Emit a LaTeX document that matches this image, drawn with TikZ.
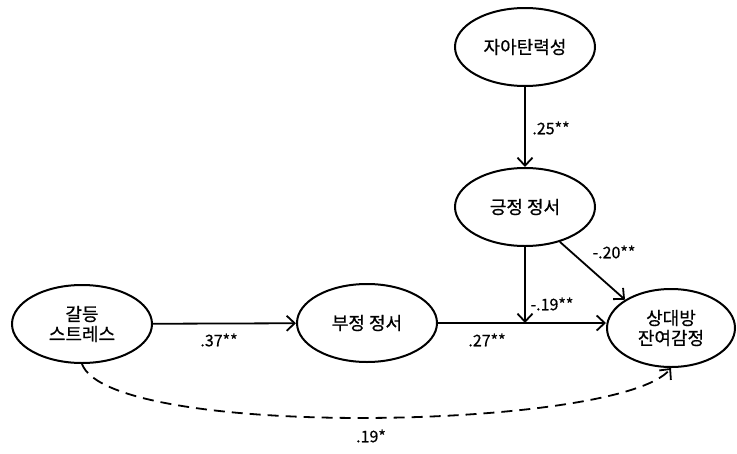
\documentclass[tikz,border=0pt]{standalone}
\usepackage{fontspec}
\setmainfont[FakeBold=0.6]{Noto Sans CJK KR}
\usetikzlibrary{shapes.geometric, arrows.meta}

\begin{document}
\begin{tikzpicture}[x=1pt, y=-1pt, every node/.style={font=\fontsize{18}{21}\selectfont},
    latent/.style={draw, ellipse, line width=2pt, minimum width=140pt, minimum height=78pt, align=center, inner sep=0pt},
    path/.style={line width=1.8pt, -{Straight Barb[length=8pt, width=15pt, line width=1.8pt]}},
    coef/.style={font=\fontsize{16}{18}\selectfont}]

      \useasboundingbox (0,0) rectangle (737,453);

      % Variables
      \node[latent] (n1) at (82,324) {갈등\\[-1pt]스트레스};
      \node[latent] (n2) at (367,323) {부정 정서};
      \node[latent] (n3) at (525,47) {자아탄력성};
      \node[latent] (n4) at (525,207) {긍정 정서};
      \node[latent, minimum width=128pt] (n5) at (671,328) {상대방\\[-1pt]잔여감정};

      % Moderation point
      \coordinate (m) at (525,323);

      % Paths
      \draw[path] (n1) -- (n2);
      \draw[path] (n2.east |- m) -- (n5.west |- m);
      \draw[path] (n3) -- (n4);
      \draw[path] (n4) -- (m);
      \draw[path] (n4.-45) -- (n5.north west);
      \draw[path, dash pattern=on 11pt off 7pt] (n1.south) .. controls (110,440) and (620,430) .. (n5.south);

      % Coefficients
      \node[coef] (c1) at (219,340) {.37**};
      \node[coef] (c2) at (487,340) {.27**};
      \node[coef] (c3) at (551,128) {.25**};
      \node[coef] (c4) at (552,304) {-.19**};
      \node[coef] (c5) at (614,252) {-.20**};
      \node[coef] (c6) at (371,436) {.19*};

\end{tikzpicture}
\end{document}
